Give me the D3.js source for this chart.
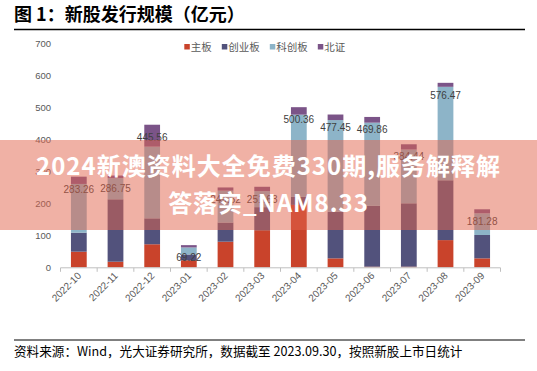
<!DOCTYPE html>
<html>
<head>
<meta charset="utf-8">
<script src="https://cdn.jsdelivr.net/npm/d3@7"></script>
<style>
  html, body { margin: 0; padding: 0; background: #fff; }
  svg { display: block; }
</style>
</head>
<body>
<svg id="chart" width="537" height="371"></svg>
<script>
// ---------- data ----------
const months = ["2022-10","2022-11","2022-12","2023-01","2023-02","2023-03","2023-04","2023-05","2023-06","2023-07","2023-08","2023-09"];
const seriesNames = ["主板","创业板","科创板","北证"];
const mainBoard = [48.8, 17.5, 72, 22, 80, 116, 195, 28, 2, 2, 85, 28];
const chiNext   = [59.4, 195, 81, 18, 60, 72, 25, 145.6, 190, 198, 187, 73];
const starMkt   = [152.3, 66, 224, 22, 99.5, 50, 257, 286.5, 260, 168, 292, 67.8];
const bse       = [22.76, 8.25, 68.56, 7.22, 10.02, 13.63, 23.36, 17.35, 17.86, 16.44, 12.47, 12.48];
const totals    = [283.26, 286.75, 445.56, 69.22, 249.52, 251.63, 500.36, 477.45, 469.86, 384.44, 576.47, 181.28];
const yTicks    = [0, 100, 200, 300, 400, 500, 600, 700];
const colors    = ["#C9432B", "#52527C", "#8DB4C8", "#7B5488"];

const titleText  = "图 1：新股发行规模（亿元）";
const sourceText = "资料来源：Wind，光大证券研究所，数据截至 2023.09.30，按照新股上市日统计";
const bannerLine1 = "2024新澳资料大全免费330期,服务解释解";
const bannerLine2 = "答落实_NAM8.33";

// ---------- build ----------
const svg = d3.select("#chart");
const W = 537, H = 371;
const cjk = "'Noto Sans CJK SC', 'Noto Sans', sans-serif";
const latin = "'Liberation Sans', Arial, sans-serif";

const rows = months.map((m, i) => ({
  month: m, "主板": mainBoard[i], "创业板": chiNext[i], "科创板": starMkt[i], "北证": bse[i], total: totals[i]
}));
const stacked = d3.stack().keys(seriesNames)(rows);

const x = d3.scaleBand().domain(months).range([60.5, 500.5]).paddingInner(0.57).paddingOuter(0.285);
const y = d3.scaleLinear().domain([0, 700]).range([267.3, 43.3]);

// title
svg.append("text").attr("x", 14).attr("y", 20.5)
  .attr("font-family", cjk).attr("font-weight", "bold").attr("font-size", 18)
  .attr("fill", "#000").text(titleText);
svg.append("line").attr("x1", 14).attr("x2", 525).attr("y1", 29.5).attr("y2", 29.5)
  .attr("stroke", "#000").attr("stroke-width", 1.4);

// y axis (labels only)
const yAxis = d3.axisLeft(y).tickValues(yTicks).tickSize(0).tickPadding(0);
const gy = svg.append("g").attr("transform", "translate(51,0)").call(yAxis);
gy.select(".domain").remove();
gy.selectAll("text").attr("font-family", latin).attr("font-size", 9.5).attr("fill", "#595959");

// bars
const g = svg.append("g");
g.selectAll("g.series").data(stacked).join("g").attr("class", "series")
  .attr("fill", (d, i) => colors[i])
  .selectAll("rect").data(d => d).join("rect")
  .attr("x", d => x(d.data.month))
  .attr("width", x.bandwidth())
  .attr("y", d => y(d[1]))
  .attr("height", d => Math.max(0, y(d[0]) - y(d[1])));

// x axis
const xAxis = d3.axisBottom(x).tickSize(0).tickPadding(0).tickFormat("");
const gx = svg.append("g").attr("transform", `translate(0,${y(0)})`).call(xAxis);
gx.select(".domain").attr("stroke", "#BFBFBF").attr("d", "M60.5,0.5H500.5");
const step = x.step();
const edges = d3.range(months.length + 1).map(i => 60.5 + i * step);
gx.selectAll("line.edge").data(edges).join("line").attr("class", "edge")
  .attr("x1", d => d).attr("x2", d => d).attr("y1", 0.5).attr("y2", 4.5)
  .attr("stroke", "#BFBFBF");
svg.append("g").selectAll("text").data(months).join("text")
  .attr("transform", d => `translate(${x(d) + x.bandwidth() / 2 + 3},${y(0) + 9}) rotate(-45)`)
  .attr("text-anchor", "end")
  .attr("font-family", latin).attr("font-size", 10).attr("fill", "#595959")
  .text(d => d);

// total labels
svg.append("g").selectAll("text").data(rows).join("text")
  .attr("x", d => x(d.month) + x.bandwidth() / 2)
  .attr("y", d => y(d.total) + 16)
  .attr("text-anchor", "middle")
  .attr("font-family", latin).attr("font-size", 10).attr("fill", "#404040")
  .text(d => d.total.toFixed(2));

// legend
const leg = svg.append("g");
let lx = 184.3;
seriesNames.forEach((name, i) => {
  leg.append("rect").attr("x", lx).attr("y", 44).attr("width", 5.5).attr("height", 5.5).attr("fill", colors[i]);
  const t = leg.append("text").attr("x", lx + 6.5).attr("y", 50.5)
    .attr("font-family", cjk).attr("font-size", 10.5).attr("fill", "#595959").text(name);
  lx += 6.5 + t.node().getComputedTextLength() + 10;
});

// banner overlay
svg.append("rect").attr("x", 0).attr("y", 140).attr("width", W).attr("height", 90)
  .attr("fill", "rgba(225,100,75,0.5)");
const banner = svg.append("g").attr("font-family", cjk).attr("font-weight", "bold")
  .attr("font-size", 24).attr("fill", "#fff").attr("text-anchor", "middle")
  .attr("letter-spacing", 1);
banner.append("text").attr("x", 268.5).attr("y", 175).text(bannerLine1);
banner.append("text").attr("x", 268.5).attr("y", 211.5).text(bannerLine2);

// footer
svg.append("line").attr("x1", 14).attr("x2", 525).attr("y1", 340).attr("y2", 340)
  .attr("stroke", "#000").attr("stroke-width", 1);
svg.append("text").attr("x", 14).attr("y", 356)
  .attr("font-family", cjk).attr("font-size", 12.6).attr("fill", "#000").text(sourceText);
</script>
</body>
</html>
